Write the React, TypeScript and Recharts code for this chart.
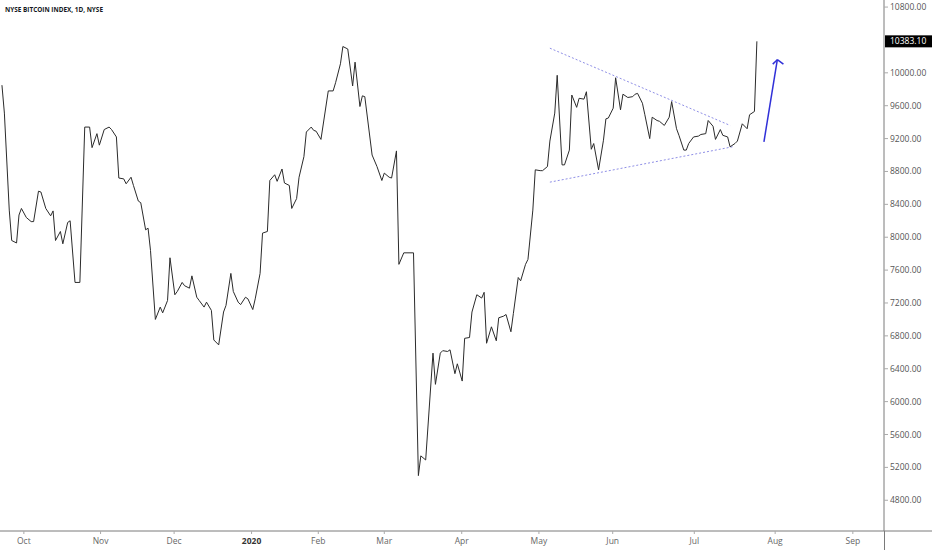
import React from "react";
import {
  LineChart, Line, XAxis, YAxis, ReferenceLine,
} from "recharts";

// daily bars, x = bar index from the first visible session (late Sep 2019)
const barIndex = [
  0, 1, 3, 4, 6, 7, 8, 10, 12, 13, 15, 16, 18, 20, 21, 22, 24, 25, 27, 28,
  30, 32, 34, 36, 37, 39, 40, 42, 44, 45, 47, 48, 50, 51, 53, 54, 56, 57, 59, 60,
  61, 63, 65, 66, 68, 69, 71, 72, 74, 75, 77, 78, 80, 81, 83, 84, 86, 87, 89, 91,
  92, 94, 95, 97, 98, 100, 101, 103, 104, 106, 107, 109, 110, 112, 113, 115, 116, 118, 119, 121,
  122, 124, 125, 127, 128, 129, 131, 134, 136, 137, 139, 140, 142, 144, 145, 147, 148, 149, 152, 154,
  156, 157, 159, 160, 162, 163, 165, 169, 171, 172, 174, 177, 178, 180, 181, 183, 184, 186, 187, 189,
  190, 192, 193, 195, 197, 198, 199, 201, 203, 204, 206, 207, 209, 210, 212, 213, 215, 216, 218, 219,
  221, 222, 224, 225, 227, 228, 230, 231, 233, 234, 236, 237, 239, 240, 242, 243, 245, 247, 248, 249,
  251, 252, 254, 255, 257, 259, 260, 261, 263, 264, 266, 267, 269, 270, 272, 274, 275, 277, 278, 280,
  281, 282, 284, 286, 287, 289, 290, 292, 293, 295, 296, 298, 299, 301, 302, 304, 306, 307, 309, 310,
];

const closes = [
  9850, 9510, 8330, 7960, 7930, 8270, 8350, 8240, 8190, 8190, 8560, 8550, 8350, 8260, 8320, 7960, 8070, 7920, 8180, 8200,
  7450, 7450, 9340, 9340, 9090, 9260, 9120, 9310, 9340, 9310, 9220, 8720, 8710, 8650, 8730, 8630, 8440, 8420, 8090, 8110,
  7840, 7000, 7150, 7080, 7230, 7750, 7300, 7340, 7450, 7410, 7380, 7530, 7270, 7230, 7150, 7210, 7110, 6750, 6690, 7090,
  7170, 7560, 7340, 7210, 7180, 7270, 7250, 7120, 7250, 7560, 8050, 8070, 8690, 8760, 8680, 8830, 8660, 8630, 8350, 8470,
  8730, 8980, 9280, 9340, 9300, 9290, 9190, 9780, 9780, 9880, 10110, 10320, 10290, 9840, 10130, 9590, 9720, 9710, 9000, 8860,
  8690, 8780, 8730, 8720, 9050, 7670, 7810, 7810, 5100, 5340, 5290, 6590, 6210, 6590, 6620, 6610, 6630, 6340, 6460, 6250,
  6770, 6780, 7090, 7300, 7260, 7330, 6710, 6910, 6740, 7020, 7040, 7060, 6850, 7070, 7510, 7470, 7670, 7730, 8330, 8820,
  8810, 8810, 8860, 9170, 9510, 9970, 8880, 8880, 9060, 9730, 9580, 9690, 9680, 9770, 9070, 9140, 8820, 9180, 9440, 9450,
  9570, 9940, 9550, 9740, 9700, 9710, 9740, 9750, 9630, 9490, 9200, 9460, 9420, 9410, 9360, 9460, 9650, 9320, 9240, 9060,
  9060, 9140, 9220, 9230, 9250, 9260, 9420, 9350, 9190, 9310, 9240, 9220, 9100, 9140, 9170, 9380, 9320, 9490, 9530, 10383.1,
];

const monthTicks = [9, 40.5, 70.7, 102.5, 129.9, 157, 188.8, 220.5, 250.8, 284.3, 317.5, 349.4];
const monthLabels = ["Oct", "Nov", "Dec", "2020", "Feb", "Mar", "Apr", "May", "Jun", "Jul", "Aug", "Sep"];

const priceTicks = [4800, 5200, 5600, 6000, 6400, 6800, 7200, 7600, 8000, 8400, 8800, 9200, 9600, 10000, 10800];

// drawn annotations: triangle (upper / lower) and the breakout arrow
const upperTrend = [{ x: 225, y: 10300 }, { x: 299, y: 9360 }];
const lowerTrend = [{ x: 225, y: 8670 }, { x: 300, y: 9100 }];
const arrowShaft = [{ x: 312.9, y: 9160 }, { x: 318.4, y: 10160 }];
const arrowWingL = [{ x: 316.5, y: 10106 }, { x: 318.4, y: 10160 }];
const arrowWingR = [{ x: 320.9, y: 10106 }, { x: 318.4, y: 10160 }];

const rows = barIndex.map((b, i) => ({ b, v: closes[i] }));
const lastClose = closes[closes.length - 1];

const FONT = "'Open Sans', sans-serif";

function MonthTick({ x, y, payload }: any) {
  const label = monthLabels[monthTicks.indexOf(payload.value)];
  const bold = label === "2020";
  return (
    <text
      x={x}
      y={y}
      dy={8}
      textAnchor="middle"
      fontSize={8.5}
      fontFamily={FONT}
      fontWeight={bold ? 700 : 400}
      fill={bold ? "#333" : "#666"}
    >
      {label}
    </text>
  );
}

function PriceTag(props: any) {
  const vb = props.viewBox || {};
  const right = (vb.x || 0) + (vb.width || 0);
  const y = vb.y || 0;
  return (
    <g>
      <rect x={right + 1} y={y - 6} width={48} height={12} fill="#000" />
      <text x={right + 6} y={y + 3} fill="#fff" fontSize={8.5} fontFamily={FONT}>
        {lastClose.toFixed(2)}
      </text>
    </g>
  );
}

export default function App() {
  return (
    <div style={{ position: "absolute", top: 0, left: 0, width: 932, height: 550, background: "#fff" }}>
      <LineChart width={932} height={550} data={rows} margin={{ top: 0, right: 0, bottom: 0, left: 0 }}>
        <XAxis
          dataKey="b"
          type="number"
          domain={[-0.8, 362.2]}
          allowDataOverflow
          ticks={monthTicks}
          tick={<MonthTick />}
          tickSize={3}
          tickMargin={2}
          height={19}
          axisLine={{ stroke: "#7a7a7a" }}
          tickLine={{ stroke: "#aaa" }}
        />
        <YAxis
          orientation="right"
          type="number"
          domain={[4426, 10886]}
          allowDataOverflow
          ticks={priceTicks}
          tickFormatter={(v: number) => v.toFixed(2)}
          width={48}
          tickSize={4}
          tickMargin={2}
          tick={{ fontSize: 8.5, fill: "#555", fontFamily: FONT }}
          axisLine={{ stroke: "#7a7a7a" }}
          tickLine={{ stroke: "#aaa" }}
        />
        <ReferenceLine segment={upperTrend} stroke="#8f8fe6" strokeDasharray="2 2" />
        <ReferenceLine segment={lowerTrend} stroke="#8f8fe6" strokeDasharray="2 2" />
        <ReferenceLine segment={arrowShaft} stroke="#3030d8" strokeWidth={1.5} />
        <ReferenceLine segment={arrowWingL} stroke="#3030d8" strokeWidth={1.5} />
        <ReferenceLine segment={arrowWingR} stroke="#3030d8" strokeWidth={1.5} />
        <Line
          dataKey="v"
          type="linear"
          stroke="#2b2b2b"
          strokeWidth={1}
          dot={false}
          activeDot={false}
          isAnimationActive={false}
        />
        <ReferenceLine y={lastClose} stroke="none" label={<PriceTag />} />
      </LineChart>
      {/* axis lines of the price / time scales run on into the corner */}
      <svg width={932} height={550} style={{ position: "absolute", top: 0, left: 0, pointerEvents: "none" }}>
        <line x1={884} y1={531} x2={932} y2={531} stroke="#7a7a7a" />
        <line x1={884.5} y1={531} x2={884.5} y2={550} stroke="#7a7a7a" />
        <text
          x={5}
          y={11.5}
          fontSize={7.5}
          fontWeight={700}
          fontFamily={FONT}
          fill="#131722"
          textLength={98}
          lengthAdjust="spacingAndGlyphs"
        >
          NYSE BITCOIN INDEX, 1D, NYSE
        </text>
      </svg>
    </div>
  );
}
